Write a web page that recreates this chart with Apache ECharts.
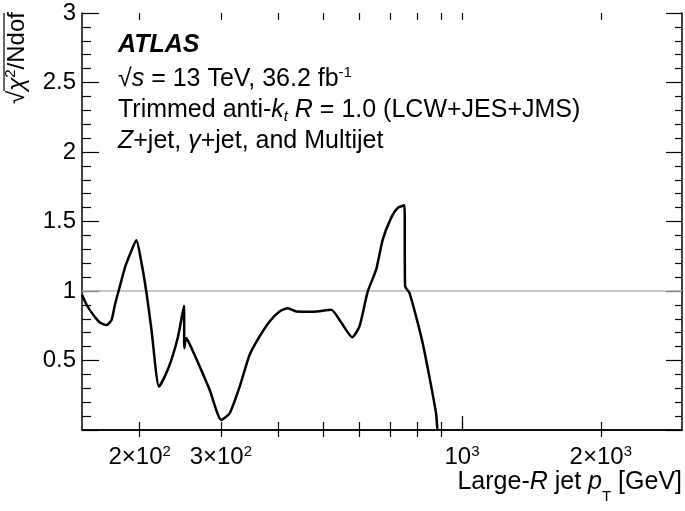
<!DOCTYPE html>
<html>
<head>
<meta charset="utf-8">
<script src="https://cdn.jsdelivr.net/npm/echarts@6/dist/echarts.min.js"></script>
<style>
  html, body { margin: 0; padding: 0; background: #fff; }
  #chart { width: 685px; height: 511px; }
</style>
</head>
<body>
<div id="chart"></div>
<script>
var FONT = '"Liberation Sans", Arial, Helvetica, sans-serif';

// large-R jet pT [GeV] and sqrt(chi2/Ndof)
var ptValues = [150, 153.5, 158.6, 164.0, 169.6, 173.9, 176.8, 181.2, 185.8, 190.5,
  196.7, 201.9, 207.0, 212.2, 220.3, 226.7, 234.4, 242.3, 249.6, 250.0,
  252.4, 261.1, 270.0, 283.8, 300.8, 313.5, 329.6, 346.4, 364.1, 382.7,
  402.3, 419.3, 437.2, 474.8, 520.4, 547.8, 578.0, 599.5, 624.8, 651.5,
  673.3, 702.1, 725.6, 750.3, 752.9, 769.2, 795.2, 821.8, 849.8, 878.6, 884.4];
var chiValues = [0.973, 0.901, 0.829, 0.774, 0.755, 0.793, 0.901, 1.033, 1.166, 1.262,
  1.365, 1.202, 0.986, 0.721, 0.312, 0.384, 0.505, 0.673, 0.894, 0.589,
  0.661, 0.565, 0.457, 0.288, 0.072, 0.120, 0.312, 0.541, 0.673, 0.781,
  0.853, 0.876, 0.853, 0.851, 0.865, 0.771, 0.668, 0.745, 0.997, 1.154,
  1.370, 1.526, 1.598, 1.617, 1.033, 0.986, 0.817, 0.625, 0.384, 0.120, 0.0];

var refLevel = 1;

var xLabelValues = [200, 300, 1000, 2000];
var xLabelMant = ['2\u00d7', '3\u00d7', '', '2\u00d7'];
var xLabelExp = ['2', '2', '3', '3'];
var xMinorTicks = [200, 300, 400, 500, 600, 700, 800, 900, 2000];
var xMajorTicks = [1000];
var xAllTicks = [200, 300, 400, 500, 600, 700, 800, 900, 1000, 2000];

var data = [];
for (var i = 0; i < ptValues.length; i++) {
  data.push([ptValues[i], chiValues[i]]);
}

var G = { left: 82, right: 3, top: 13, bottom: 81 };
var gridW = 685 - G.left - G.right;
var gridH = 511 - G.top - G.bottom;

// ticks have to point into the frame, so every axis sits on the
// opposite side of the grid and is pulled back with a negative offset.
// only x axes 0 and 3 draw their ticks here, so those carry the full set
function xAxisDef(pos, ticks, len, tickColor, withLine, withLabels) {
  return {
    type: 'log',
    position: pos,
    offset: -gridH,
    min: 150,
    max: 3000,
    axisLine: { show: withLine, lineStyle: { color: '#000', width: 1.5 } },
    axisTick: { show: true, length: len, customValues: ticks,
      lineStyle: { color: tickColor, width: 1.2 } },
    axisLabel: withLabels ? {
      inside: true,
      customValues: xLabelValues,
      margin: 14,
      formatter: function (v) {
        var k = xLabelValues.indexOf(Math.round(v));
        return '{n|' + xLabelMant[k] + '10}{s|' + xLabelExp[k] + '}';
      },
      rich: {
        n: { fontFamily: FONT, fontSize: 24, color: '#000', lineHeight: 26 },
        s: { fontFamily: FONT, fontSize: 15, color: '#000', verticalAlign: 'top', lineHeight: 26 }
      }
    } : { show: false },
    splitLine: { show: false }
  };
}

function yAxisDef(pos, offset, major, minor, tickColor, withLine, withLabels) {
  return {
    type: 'value',
    position: pos,
    offset: offset,
    min: 0,
    max: 3,
    interval: 0.5,
    axisLine: { show: withLine, onZero: false, lineStyle: { color: '#000', width: 1.5 } },
    axisTick: { show: major > 0, length: major, lineStyle: { color: tickColor, width: 1.2 } },
    minorTick: { show: minor > 0, splitNumber: 5, length: minor, lineStyle: { color: tickColor, width: 1.2 } },
    axisLabel: withLabels ? {
      show: true,
      margin: 6,
      fontFamily: FONT,
      fontSize: 24,
      color: '#000',
      formatter: function (v) { return v === 0 ? '' : String(v); }
    } : { show: false },
    splitLine: { show: false },
    minorSplitLine: { show: false }
  };
}

var chart = echarts.init(document.getElementById('chart'));

chart.setOption({
  animation: false,
  grid: { left: G.left, right: G.right, top: G.top, bottom: G.bottom },
  xAxis: [
    xAxisDef('top', xAllTicks, 8, '#000000', true, true),
    xAxisDef('top', xMajorTicks, 14, '#010101', false, false),
    xAxisDef('bottom', xMinorTicks, 7, '#020202', true, false),
    xAxisDef('bottom', xAllTicks, 7, '#030303', false, false)
  ],
  yAxis: [
    yAxisDef('left', 0, 0, 0, '#000000', true, true),
    yAxisDef('right', -gridW, 17, 9, '#040404', false, false),
    yAxisDef('left', -gridW, 16, 7, '#050505', true, false)
  ],
  series: [{
    type: 'line',
    xAxisIndex: 0,
    yAxisIndex: 0,
    data: data,
    showSymbol: false,
    smooth: 0.2,
    lineStyle: { color: '#000', width: 2.5 },
    z: 5,
    markLine: {
      silent: true,
      symbol: 'none',
      label: { show: false },
      lineStyle: { color: '#b4b4b4', width: 1.5, type: 'solid' },
      data: [{ yAxis: refLevel }],
      z: 2
    }
  }],
  graphic: [
    {
      type: 'text', left: 118, top: 33,
      style: { text: 'ATLAS', font: 'italic bold 25px ' + FONT, fill: '#000' }
    },
    {
      type: 'text', left: 118, top: 65,
      style: {
        text: '{n|\u221a}{i|s}{n| = 13 TeV, 36.2 fb}{s|-1}',
        rich: {
          n: { fontFamily: FONT, fontSize: 25, lineHeight: 28, fill: '#000' },
          i: { fontFamily: FONT, fontSize: 25, fontStyle: 'italic', lineHeight: 28, fill: '#000' },
          s: { fontFamily: FONT, fontSize: 15, lineHeight: 28, verticalAlign: 'top', fill: '#000' }
        }
      }
    },
    {
      type: 'text', left: 118, top: 98,
      style: {
        text: '{n|Trimmed anti-}{i|k}{b|t}{n| }{i|R}{n| = 1.0 (LCW+JES+JMS)}',
        rich: {
          n: { fontFamily: FONT, fontSize: 25, lineHeight: 28, fill: '#000' },
          i: { fontFamily: FONT, fontSize: 25, fontStyle: 'italic', lineHeight: 28, fill: '#000' },
          b: { fontFamily: FONT, fontSize: 15, fontStyle: 'italic', lineHeight: 28, verticalAlign: 'bottom', fill: '#000' }
        }
      }
    },
    {
      type: 'text', left: 118, top: 129,
      style: {
        text: '{i|Z}{n|+jet, }{i|\u03b3}{n|+jet, and Multijet}',
        rich: {
          n: { fontFamily: FONT, fontSize: 25, lineHeight: 28, fill: '#000' },
          i: { fontFamily: FONT, fontSize: 25, fontStyle: 'italic', lineHeight: 28, fill: '#000' }
        }
      }
    },
    {
      // y axis title, rotated
      type: 'group', x: 31, y: 104, rotation: Math.PI / 2,
      children: [
        {
          type: 'text', x: 0, y: 0,
          style: {
            text: '{n|\u221a}{g|\u03c7}{s|2}{n|/Ndof}',
            verticalAlign: 'bottom',
            rich: {
              n: { fontFamily: FONT, fontSize: 24, lineHeight: 28, fill: '#000' },
              g: { fontFamily: FONT, fontSize: 24, fontStyle: 'italic', lineHeight: 28, fill: '#000' },
              s: { fontFamily: FONT, fontSize: 15, lineHeight: 28, verticalAlign: 'top', fill: '#000' }
            }
          }
        },
        {
          type: 'line',
          shape: { x1: 13, y1: -27, x2: 91, y2: -27 },
          style: { stroke: '#000', lineWidth: 1.2 }
        }
      ]
    },
    {
      type: 'text', right: 3, top: 470,
      style: {
        text: '{n|Large-}{i|R}{n| jet }{i|p}{b|T}{n| [GeV]}',
        rich: {
          n: { fontFamily: FONT, fontSize: 25, lineHeight: 28, fill: '#000' },
          i: { fontFamily: FONT, fontSize: 25, fontStyle: 'italic', lineHeight: 28, fill: '#000' },
          b: { fontFamily: FONT, fontSize: 15, lineHeight: 28, verticalAlign: 'bottom', padding: [0, 0, -8, 0], fill: '#000' }
        }
      }
    }
  ]
});
</script>
</body>
</html>
